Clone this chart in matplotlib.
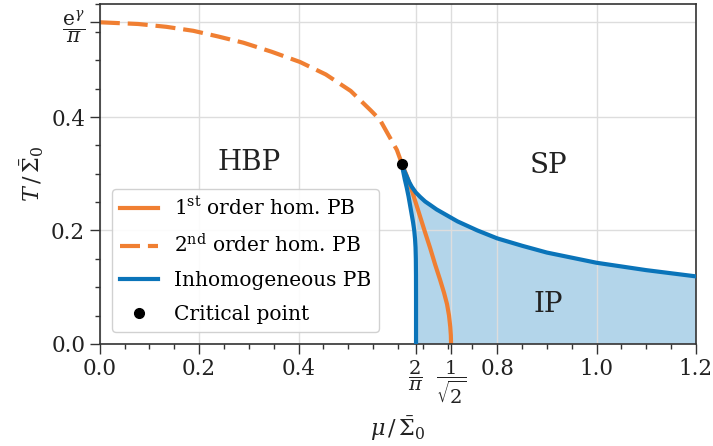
import numpy as np
import matplotlib
matplotlib.use('Agg')
import matplotlib.pyplot as plt
from matplotlib.ticker import FixedLocator, MultipleLocator

plt.rcParams['font.family'] = ['DejaVu Serif']
plt.rcParams['mathtext.fontset'] = 'dejavuserif'

# second order homogeneous phase boundary (dashed)
mu_2nd = [0.0, 0.077, 0.134, 0.188, 0.238, 0.289, 0.346, 0.403, 0.455,
          0.505, 0.545, 0.564, 0.580, 0.598, 0.608]
T_2nd = [0.567, 0.564, 0.559, 0.552, 0.542, 0.531, 0.515, 0.497, 0.475,
         0.446, 0.412, 0.395, 0.370, 0.342, 0.318]

# first order homogeneous phase boundary
mu_1st = [0.608, 0.618, 0.628, 0.641, 0.655, 0.665, 0.675, 0.685, 0.693,
          0.699, 0.703, 0.7055, 0.7067, 0.7071]
T_1st = [0.318, 0.296, 0.271, 0.235, 0.196, 0.169, 0.140, 0.113, 0.090,
         0.070, 0.050, 0.030, 0.015, 0.0]

# inhomogeneous phase boundary, left branch (top to bottom)
mu_inh_left = [0.608, 0.6105, 0.614, 0.618, 0.6215, 0.6245, 0.6275, 0.6305,
               0.633, 0.6346, 0.6356, 0.6362, 0.6365, 0.6366, 0.6366]
T_inh_left = [0.318, 0.305, 0.290, 0.275, 0.260, 0.245, 0.230, 0.215,
              0.200, 0.185, 0.170, 0.150, 0.120, 0.080, 0.0]

# inhomogeneous phase boundary, right branch
mu_inh_right = [0.608, 0.612, 0.618, 0.623, 0.628, 0.636, 0.645, 0.655,
                0.665, 0.678, 0.692, 0.72, 0.76, 0.80, 0.85, 0.90, 0.95,
                1.0, 1.1, 1.2]
T_inh_right = [0.318, 0.307, 0.295, 0.285, 0.277, 0.267, 0.259, 0.251,
               0.245, 0.237, 0.230, 0.216, 0.200, 0.186, 0.173, 0.161,
               0.152, 0.143, 0.130, 0.119]

mu_cp, T_cp = 0.608, 0.318

orange = '#f07f32'
blue = '#0a74b9'
fill = '#b3d5ea'

fig = plt.figure(figsize=(7.13, 4.46), dpi=100)
ax = fig.add_axes([0.140, 0.229, 0.836, 0.763])

# inhomogeneous region
poly_mu = mu_inh_left[::-1] + mu_inh_right + [mu_inh_right[-1]]
poly_T = T_inh_left[::-1] + T_inh_right + [0.0]
ax.fill(poly_mu, poly_T, color=fill, lw=0, zorder=1)

l1, = ax.plot(mu_1st, T_1st, color=orange, lw=3,
              label=r'1$^{\mathrm{st}}$ order hom. PB', zorder=2)
l2, = ax.plot(mu_2nd, T_2nd, color=orange, lw=3, dashes=(4.8, 1.9),
              label=r'2$^{\mathrm{nd}}$ order hom. PB', zorder=2)
l3, = ax.plot(mu_inh_left, T_inh_left, color=blue, lw=3,
              label='Inhomogeneous PB', zorder=3, solid_joinstyle='round')
ax.plot(mu_inh_right, T_inh_right, color=blue, lw=3, zorder=3,
        solid_joinstyle='round')
l4, = ax.plot([mu_cp], [T_cp], 'o', color='black', ms=7, lw=0,
              label='Critical point', zorder=4)

ax.text(0.3, 0.319, 'HBP', fontsize=20, ha='center', va='center', color='#222222')
ax.text(0.903, 0.315, 'SP', fontsize=20, ha='center', va='center', color='#222222')
ax.text(0.903, 0.069, 'IP', fontsize=20, ha='center', va='center', color='#222222')

ax.set_xlim(0, 1.2)
ax.set_ylim(0, 0.6)

xt = [0.0, 0.2, 0.4, 2 / np.pi, 1 / np.sqrt(2), 0.8, 1.0, 1.2]
xtl = ['0.0', '0.2', '0.4', r'$\dfrac{2}{\pi}$', r'$\dfrac{1}{\sqrt{2}}$',
       '0.8', '1.0', '1.2']
ax.xaxis.set_major_locator(FixedLocator(xt))
ax.set_xticklabels(xtl)
ax.xaxis.set_minor_locator(MultipleLocator(0.05))

yt = [0.0, 0.2, 0.4, np.exp(np.euler_gamma) / np.pi]
ytl = ['0.0', '0.2', '0.4', r'$\dfrac{\mathrm{e}^{\gamma}}{\pi}$']
ax.yaxis.set_major_locator(FixedLocator(yt))
ax.set_yticklabels(ytl)
ax.yaxis.set_minor_locator(MultipleLocator(0.05))

ax.tick_params(which='major', length=7, width=1, labelsize=15.5,
               colors='#333333', labelcolor='#222222')
ax.tick_params(which='minor', length=3.5, width=1, colors='#333333')
# fraction tick labels a bit smaller than the plain numbers
for tick in ax.xaxis.get_major_ticks()[3:5]:
    tick.label1.set_fontsize(14)
ax.yaxis.get_major_ticks()[3].label1.set_fontsize(14.5)
for s in ax.spines.values():
    s.set_color('#333333')
    s.set_linewidth(1.2)

ax.grid(True, which='major', color='#dddddd', lw=1)

ax.set_xlabel(r'$\mu\,/\,\bar{\Sigma}_0$', fontsize=16, color='#222222',
              labelpad=6)
ax.set_ylabel(r'$T\,/\,\bar{\Sigma}_0$', fontsize=16, color='#222222')

ax.legend(handles=[l1, l2, l3, l4], loc='lower left', fontsize=14.5,
          bbox_to_anchor=(0.02, 0.035), borderaxespad=0, handlelength=1.9,
          edgecolor='#cccccc', framealpha=0.9, labelspacing=0.72)

fig.savefig('out.png', dpi=100)
